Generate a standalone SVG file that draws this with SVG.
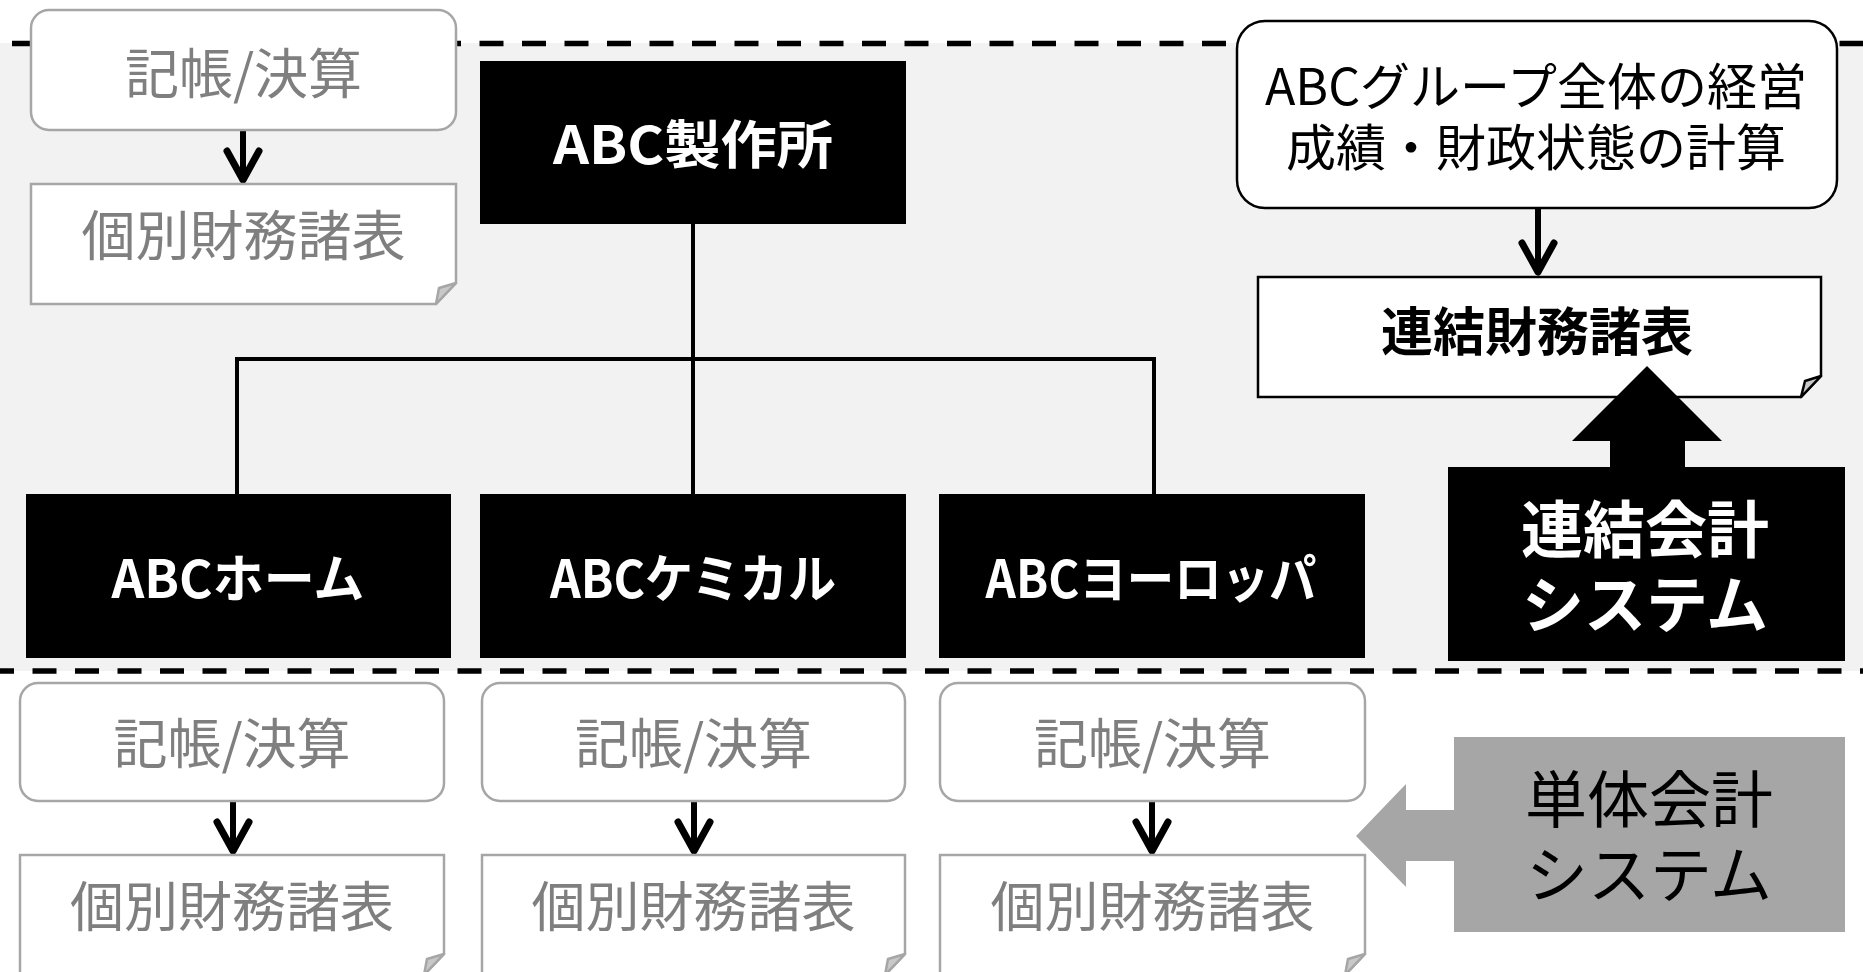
<svg xmlns="http://www.w3.org/2000/svg" width="1863" height="972" viewBox="0 0 1863 972">
<style>
text{font-family:"Noto Sans CJK JP","Noto Sans",sans-serif;text-anchor:middle}
.gt{fill:#7f7f7f;font-size:54px}
.wb{fill:#fff;font-size:52px;font-weight:bold}
.bt{fill:#000;font-size:50px}
.gbox{fill:#fff;stroke:#a6a6a6;stroke-width:2.5}
.bbox{fill:#000}
.fold-g{fill:#c8c8c8;stroke:#a6a6a6;stroke-width:2.5;stroke-linejoin:round}
.fold-b{fill:#c8c8c8;stroke:#000;stroke-width:2.5;stroke-linejoin:round}
.dash{stroke:#000;stroke-width:5.5;stroke-dasharray:24 18.5;fill:none}
.org{stroke:#000;stroke-width:4;fill:none}
.arr{stroke:#000;stroke-width:6;fill:none;marker-end:url(#vhead)}
</style>
<defs>
<marker id="vhead" markerUnits="userSpaceOnUse" viewBox="-36 -22 42 44" refX="0" refY="0" markerWidth="42" markerHeight="44" orient="auto" overflow="visible">
<path d="M-29,-16 L0,0 L-29,16" fill="none" stroke="#000" stroke-width="7" stroke-linecap="round" stroke-linejoin="round"/>
</marker>
</defs>
<rect x="0" y="0" width="1863" height="972" fill="#fff"/>
<rect x="0" y="43" width="1863" height="628" fill="#f2f2f2"/>
<g id="separators">
<line class="dash" x1="12" y1="43.5" x2="1863" y2="43.5"/>
<line class="dash" x1="-10" y1="671" x2="1863" y2="671"/>
</g>
<g id="connectors">
<path class="org" d="M693,224 V359 M237,359 H1154 M237,357 V494 M693,359 V494 M1154,357 V494"/>
<line class="arr" x1="243" y1="130" x2="243" y2="180"/>
<line class="arr" x1="1538" y1="208" x2="1538" y2="272"/>
<line class="arr" x1="233" y1="801" x2="233" y2="851"/>
<line class="arr" x1="694" y1="801" x2="694" y2="851"/>
<line class="arr" x1="1152" y1="801" x2="1152" y2="851"/>
</g>
<g id="tl-kicho">
<rect class="gbox" x="31" y="10" width="425" height="120" rx="18"/>
<text class="gt" x="243.5" y="94">記帳/決算</text>
</g>
<g id="tl-kobetsu">
<path class="gbox" d="M31,184 H456 V283 L436,304 H31 Z"/>
<path class="fold-g" d="M436,304 L439,288 L456,283 Z"/>
<text class="gt" x="243.5" y="256">個別財務諸表</text>
</g>
<g id="abc-seisakusho">
<rect class="bbox" x="480" y="61" width="426" height="163"/>
<text class="wb" x="693" y="164" textLength="280" lengthAdjust="spacingAndGlyphs">ABC製作所</text>
</g>
<g id="abc-home">
<rect class="bbox" x="26" y="494" width="425" height="164"/>
<text class="wb" x="238" y="598" textLength="253" lengthAdjust="spacingAndGlyphs">ABCホーム</text>
</g>
<g id="abc-chemical">
<rect class="bbox" x="480" y="494" width="426" height="164"/>
<text class="wb" x="693" y="598" textLength="286" lengthAdjust="spacingAndGlyphs">ABCケミカル</text>
</g>
<g id="abc-europe">
<rect class="bbox" x="939" y="494" width="426" height="164"/>
<text class="wb" x="1151" y="598" textLength="331" lengthAdjust="spacingAndGlyphs">ABCヨーロッパ</text>
</g>
<g id="group-calc">
<rect x="1237" y="21" width="600" height="187" rx="28" fill="#fff" stroke="#000" stroke-width="2.5"/>
<text class="bt"><tspan x="1536" y="105">ABCグループ全体の経営</tspan><tspan x="1536" y="166">成績・財政状態の計算</tspan></text>
</g>
<g id="renketsu-zaimu">
<path d="M1258,277 H1821 V376 L1801,397 H1258 Z" fill="#fff" stroke="#000" stroke-width="2.5"/>
<path class="fold-b" d="M1801,397 L1805,381 L1821,376 Z"/>
<text x="1537" y="351" style="font-size:52px;font-weight:bold;fill:#000">連結財務諸表</text>
</g>
<g id="up-arrow">
<polygon points="1647,366 1722,441 1685,441 1685,470 1610,470 1610,441 1572,441" fill="#000"/>
</g>
<g id="renketsu-system">
<rect class="bbox" x="1448" y="467" width="397" height="194"/>
<text style="font-size:62px;font-weight:bold;fill:#fff"><tspan x="1645" y="553">連結会計</tspan><tspan x="1645" y="628">システム</tspan></text>
</g>
<g id="b1-kicho">
<rect class="gbox" x="20" y="683" width="424" height="118" rx="18"/>
<text class="gt" x="232" y="764">記帳/決算</text>
</g>
<g id="b2-kicho">
<rect class="gbox" x="482" y="683" width="423" height="118" rx="18"/>
<text class="gt" x="693.5" y="764">記帳/決算</text>
</g>
<g id="b3-kicho">
<rect class="gbox" x="940" y="683" width="425" height="118" rx="18"/>
<text class="gt" x="1152.5" y="764">記帳/決算</text>
</g>
<g id="b1-kobetsu">
<path class="gbox" d="M20,855 H444 V954 L424,975 H20 Z"/>
<path class="fold-g" d="M424,975 L427,959 L444,954 Z"/>
<text class="gt" x="232" y="927">個別財務諸表</text>
</g>
<g id="b2-kobetsu">
<path class="gbox" d="M482,855 H905 V954 L885,975 H482 Z"/>
<path class="fold-g" d="M885,975 L888,959 L905,954 Z"/>
<text class="gt" x="693.5" y="927">個別財務諸表</text>
</g>
<g id="b3-kobetsu">
<path class="gbox" d="M940,855 H1365 V954 L1345,975 H940 Z"/>
<path class="fold-g" d="M1345,975 L1348,959 L1365,954 Z"/>
<text class="gt" x="1152.5" y="927">個別財務諸表</text>
</g>
<g id="left-arrow">
<polygon points="1356,836 1406,784 1406,810 1456,810 1456,861 1406,861 1406,887" fill="#a6a6a6"/>
</g>
<g id="tantai-system">
<rect x="1454" y="737" width="391" height="195" fill="#a6a6a6"/>
<text style="font-size:62px;fill:#000"><tspan x="1649" y="823">単体会計</tspan><tspan x="1649" y="898">システム</tspan></text>
</g>
</svg>
